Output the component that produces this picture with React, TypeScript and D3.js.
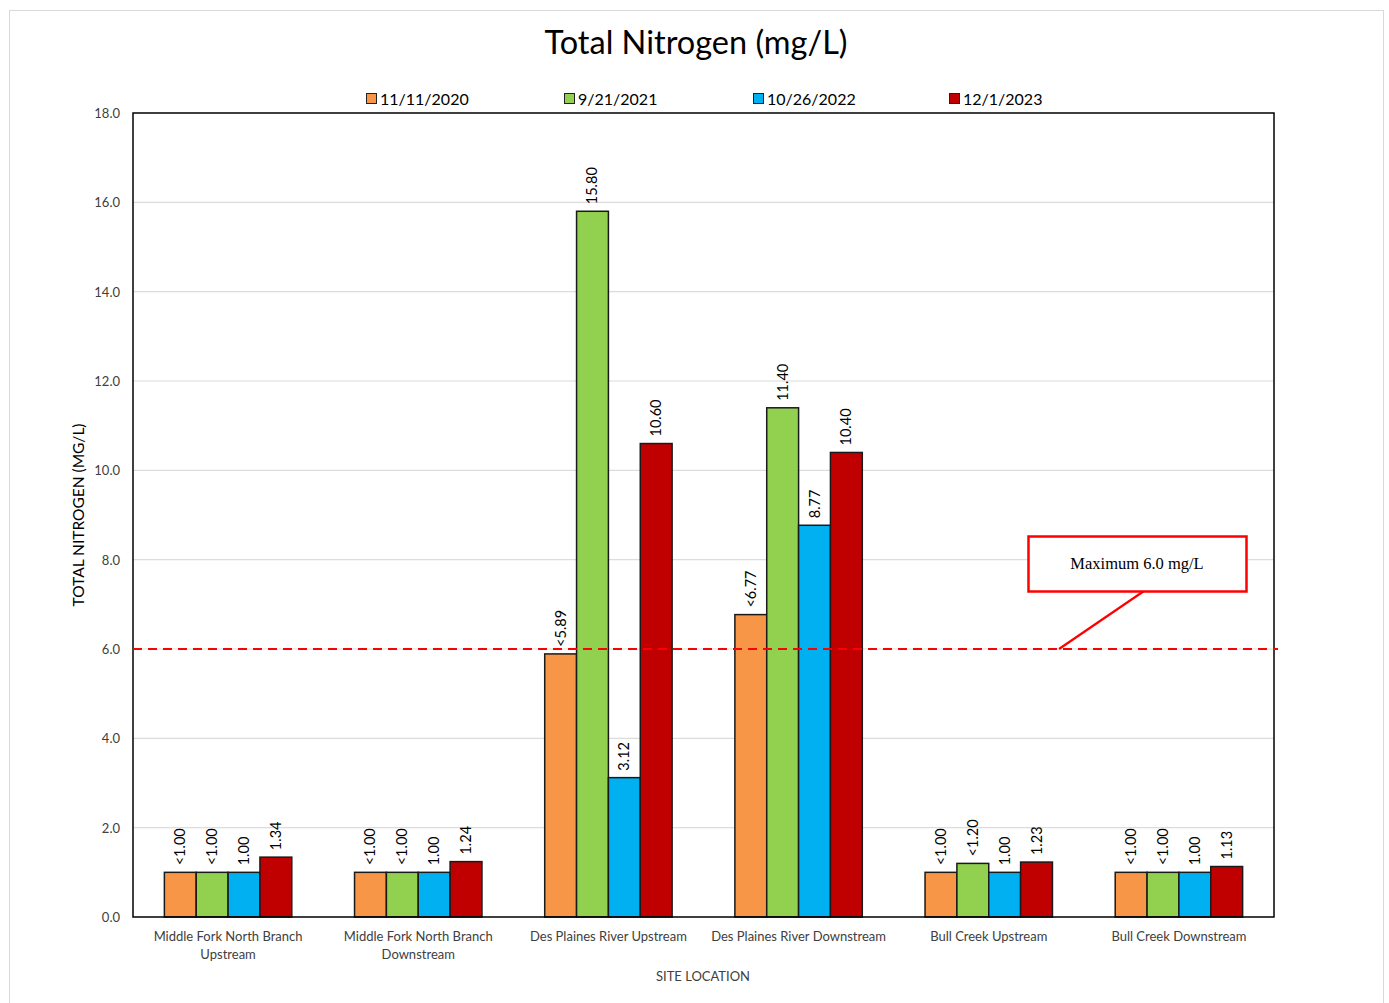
import React from "react";
import * as d3 from "d3";

const categories = [
  ["Middle Fork North Branch", "Upstream"],
  ["Middle Fork North Branch", "Downstream"],
  ["Des Plaines River Upstream"],
  ["Des Plaines River Downstream"],
  ["Bull Creek Upstream"],
  ["Bull Creek Downstream"],
];
const seriesNames = ["11/11/2020", "9/21/2021", "10/26/2022", "12/1/2023"];
const seriesColors = ["#f79646", "#92d050", "#00b0f0", "#c00000"];
const values2020 = [1.0, 1.0, 5.89, 6.77, 1.0, 1.0];
const values2021 = [1.0, 1.0, 15.8, 11.4, 1.2, 1.0];
const values2022 = [1.0, 1.0, 3.12, 8.77, 1.0, 1.0];
const values2023 = [1.34, 1.24, 10.6, 10.4, 1.23, 1.13];
const labels2020 = ["<1.00", "<1.00", "<5.89", "<6.77", "<1.00", "<1.00"];
const labels2021 = ["<1.00", "<1.00", "15.80", "11.40", "<1.20", "<1.00"];
const labels2022 = ["1.00", "1.00", "3.12", "8.77", "1.00", "1.00"];
const labels2023 = ["1.34", "1.24", "10.60", "10.40", "1.23", "1.13"];
const yTicks = [0, 2, 4, 6, 8, 10, 12, 14, 16, 18];
const limitValue = 6.0;
const limitLabel = "Maximum 6.0 mg/L";

const allValues = [values2020, values2021, values2022, values2023];
const allLabels = [labels2020, labels2021, labels2022, labels2023];

export default function App() {
  const W = 1389, H = 1003;
  const left = 133, right = 1274, top = 113, bottom = 917;
  const font = "Lato, 'Open Sans', sans-serif";
  const x = d3.scaleBand<number>().domain(d3.range(categories.length)).range([left, right]).paddingInner(0.33).paddingOuter(0.165);
  const x1 = d3.scaleBand<number>().domain(d3.range(seriesNames.length)).range([0, x.bandwidth()]);
  const y = d3.scaleLinear().domain([0, 18]).range([bottom, top]);
  const legendX = [366, 564, 753, 949];
  const yl = y(limitValue);
  return (
    <svg width={W} height={H} style={{ position: "absolute", left: 0, top: 0, background: "#fff" }}>
      <rect x={9.5} y={10.5} width={1374} height={1000} fill="#fff" stroke="#d9d9d9" strokeWidth={1} />
      <text x={696} y={54} textAnchor="middle" fontFamily={font} fontSize={32.5} fill="#000">Total Nitrogen (mg/L)</text>
      {seriesNames.map((s, i) => (
        <g key={s}>
          <rect x={legendX[i] + 0.5} y={93.5} width={10} height={10} fill={seriesColors[i]} stroke="#222" strokeWidth={1} />
          <text x={legendX[i] + 14} y={105} fontFamily={font} fontSize={16} fill="#000">{s}</text>
        </g>
      ))}
      {yTicks.map((t) => (
        <g key={t}>
          {t > 0 && t < 18 && <line x1={left} x2={right} y1={y(t)} y2={y(t)} stroke="#dcdcdc" strokeWidth={1.2} />}
          <text x={120} y={y(t) + 5} textAnchor="end" fontFamily={font} fontSize={13} fill="#404040">{t.toFixed(1)}</text>
        </g>
      ))}
      {categories.map((c, ci) => (
        <g key={ci}>
          {allValues.map((vals, si) => {
            const bx = (x(ci) as number) + (x1(si) as number);
            const by = y(vals[ci]);
            const cx = bx + x1.bandwidth() / 2;
            return (
              <g key={si}>
                <rect x={bx} y={by} width={x1.bandwidth()} height={bottom - by} fill={seriesColors[si]} stroke="#1a1a1a" strokeWidth={1.5} />
                <text transform={`translate(${cx + 5},${by - 7}) rotate(-90)`} fontFamily={font} fontSize={14.5} fill="#000">{allLabels[si][ci]}</text>
              </g>
            );
          })}
          {c.map((line, li) => (
            <text key={li} x={(x(ci) as number) + x.bandwidth() / 2} y={941 + li * 18} textAnchor="middle" fontFamily={font} fontSize={13} fill="#404040">{line}</text>
          ))}
        </g>
      ))}
      <rect x={left} y={top} width={right - left} height={bottom - top} fill="none" stroke="#000" strokeWidth={1.5} />
      <line x1={left} x2={right + 4} y1={yl} y2={yl} stroke="#ff0000" strokeWidth={2} strokeDasharray="9,6" />
      <line x1={1059} y1={yl} x2={1144} y2={591} stroke="#ff0000" strokeWidth={2.2} />
      <rect x={1028.5} y={536.5} width={218} height={55} fill="#fff" stroke="#ff0000" strokeWidth={2.5} />
      <text x={1137} y={569} textAnchor="middle" fontFamily="'Liberation Serif', 'Times New Roman', serif" fontSize={16.5} fill="#000">{limitLabel}</text>
      <text transform={`translate(84,515) rotate(-90)`} textAnchor="middle" fontFamily={font} fontSize={15.5} fill="#000">TOTAL NITROGEN (MG/L)</text>
      <text x={703} y={981} textAnchor="middle" fontFamily={font} fontSize={13} fill="#404040">SITE LOCATION</text>
    </svg>
  );
}
